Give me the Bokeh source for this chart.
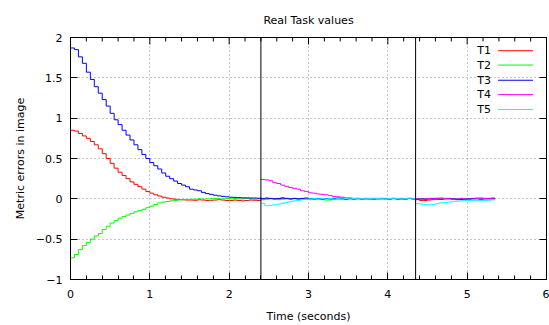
from bokeh.plotting import figure
from bokeh.models import LinearAxis, FixedTicker, Span
from bokeh.core.properties import value
from bokeh.embed import file_html
from bokeh.resources import INLINE

# ---------------- data ----------------
time_all = [0.00, 0.05, 0.10, 0.15, 0.20, 0.25, 0.30, 0.35, 0.40, 0.45,
            0.50, 0.55, 0.60, 0.65, 0.70, 0.75, 0.80, 0.85, 0.90, 0.95,
            1.00, 1.05, 1.10, 1.15, 1.20, 1.25, 1.30, 1.35, 1.40, 1.45,
            1.50, 1.55, 1.60, 1.65, 1.70, 1.75, 1.80, 1.85, 1.90, 1.95,
            2.00, 2.05, 2.10, 2.15, 2.20, 2.25, 2.30, 2.35,
            2.40, 2.45, 2.50, 2.55, 2.60, 2.65, 2.70, 2.75, 2.80, 2.85, 2.90, 2.95,
            3.00, 3.05, 3.10, 3.15, 3.20, 3.25, 3.30, 3.35, 3.40, 3.45,
            3.50, 3.55, 3.60, 3.65, 3.70, 3.75, 3.80, 3.85, 3.90, 3.95,
            4.00, 4.05, 4.10, 4.15, 4.20, 4.25, 4.30,
            4.35, 4.40, 4.45, 4.50, 4.55, 4.60, 4.65, 4.70, 4.75, 4.80, 4.85,
            4.90, 4.95, 5.00, 5.05, 5.10, 5.15, 5.20, 5.25, 5.30, 5.35]

t1 = [0.85, 0.84, 0.81, 0.78, 0.75, 0.71, 0.67, 0.62, 0.56, 0.50,
      0.44, 0.38, 0.33, 0.29, 0.25, 0.21, 0.18, 0.15, 0.12, 0.09,
      0.07, 0.05, 0.035, 0.02, 0.01, 0.0, -0.005, -0.01, -0.012, -0.015,
      -0.015, -0.018, -0.012, -0.015, -0.02, -0.018, -0.015, -0.01, -0.015, -0.02,
      -0.02, -0.015, -0.02, -0.025, -0.02, -0.015, -0.018, -0.02,
      -0.01, 0.0, 0.005, 0.0, -0.005, 0.01, 0.005, 0.0, 0.005, 0.0, 0.005, 0.0,
      0.0, 0.005, 0.0, -0.005, 0.0, 0.005, 0.0, 0.005, 0.0, -0.005,
      0.0, 0.005, 0.0, 0.0, 0.005, 0.0, -0.005, 0.0, 0.005, 0.0,
      0.0, 0.005, 0.0, -0.005, 0.0, 0.005, 0.0,
      -0.01, -0.02, -0.02, -0.015, -0.01, -0.005, 0.0, 0.005, 0.0, -0.005, 0.0,
      0.005, 0.0, -0.005, 0.0, 0.005, 0.01, 0.005, 0.0, 0.005, 0.01]

t2 = [-0.73, -0.69, -0.63, -0.58, -0.54, -0.50, -0.46, -0.43, -0.38, -0.34,
      -0.30, -0.27, -0.24, -0.22, -0.20, -0.18, -0.16, -0.145, -0.13, -0.11,
      -0.09, -0.07, -0.05, -0.04, -0.033, -0.025, -0.02, -0.012, -0.01, -0.008,
      -0.005, -0.005, 0.0, -0.005, 0.0, 0.0, 0.005, 0.0, 0.0, 0.005,
      0.0, 0.005, 0.0, 0.0, 0.005, 0.0, -0.005, 0.0,
      -0.01, -0.005, 0.0, -0.005, -0.01, -0.005, 0.0, -0.005, 0.0, -0.005, 0.0, -0.005,
      -0.01, -0.005, -0.005, -0.01, -0.015, -0.015, -0.01, -0.005, -0.01, -0.005,
      0.0, -0.005, 0.0, 0.005, 0.0, -0.005, 0.0, 0.0, 0.005, 0.0,
      0.005, 0.0, 0.0, -0.005, 0.0, 0.005, 0.0,
      0.005, 0.0, 0.005, 0.0, 0.005, 0.01, 0.005, 0.0, 0.005, 0.0, 0.005,
      0.0, 0.005, 0.0, 0.005, 0.01, 0.005, 0.0, 0.005, 0.0, 0.005]

t3 = [1.87, 1.85, 1.76, 1.68, 1.57, 1.48, 1.39, 1.31, 1.23, 1.15,
      1.06, 0.98, 0.92, 0.85, 0.79, 0.73, 0.67, 0.61, 0.55, 0.50,
      0.45, 0.41, 0.37, 0.32, 0.28, 0.25, 0.22, 0.19, 0.17, 0.15,
      0.12, 0.11, 0.10, 0.08, 0.065, 0.055, 0.045, 0.037, 0.03, 0.025,
      0.02, 0.018, 0.015, 0.012, 0.012, 0.01, 0.01, 0.008,
      0.005, 0.01, 0.005, 0.0, 0.005, 0.01, 0.005, 0.0, 0.005, 0.0, 0.005, 0.01,
      0.005, 0.0, 0.005, 0.0, 0.005, 0.0, 0.005, 0.01, 0.005, 0.0,
      0.005, 0.0, 0.005, 0.0, 0.0, 0.005, 0.0, 0.005, 0.0, 0.005,
      0.0, 0.005, 0.0, 0.005, 0.0, 0.005, 0.0,
      -0.005, 0.0, -0.005, 0.0, 0.005, 0.0, -0.005, 0.0, 0.005, 0.0, -0.01,
      -0.01, -0.005, 0.0, 0.005, 0.0, -0.005, 0.0, 0.005, 0.0, 0.005]

time_late = time_all[48:]

t4 = [0.24, 0.235, 0.225, 0.20, 0.19, 0.17, 0.155, 0.14, 0.13, 0.12, 0.10, 0.09,
      0.075, 0.07, 0.06, 0.055, 0.05, 0.04, 0.03, 0.025, 0.02, 0.012,
      0.01, 0.005, 0.005, 0.0, 0.005, 0.0, 0.005, 0.0, 0.005, 0.0,
      0.0, 0.005, 0.0, 0.005, 0.0, 0.005, 0.0,
      0.0, -0.005, 0.0, 0.005, 0.0, 0.005, 0.01, 0.005, 0.0, -0.005, 0.0,
      0.005, 0.0, -0.005, 0.0, 0.005, 0.0, 0.005, 0.0, 0.01, 0.01]

t5 = [-0.055, -0.085, -0.08, -0.075, -0.065, -0.055, -0.045, -0.035, -0.025, -0.02, -0.01, -0.005,
      0.0, 0.005, 0.0, 0.005, 0.0, 0.005, 0.01, 0.005, 0.0, 0.005,
      0.0, 0.005, 0.0, 0.005, 0.0, 0.005, 0.0, 0.005, 0.0, 0.0,
      0.005, 0.0, 0.005, 0.0, 0.005, 0.0, 0.0,
      -0.06, -0.065, -0.07, -0.075, -0.07, -0.06, -0.05, -0.045, -0.04, -0.035, -0.03,
      -0.025, -0.02, -0.02, -0.02, -0.018, -0.02, -0.02, -0.018, -0.012, -0.01]

series_names = ["T1", "T2", "T3", "T4", "T5"]
series_colors = ["#ff0000", "#00ff00", "#0000ff", "#ff00ff", "#00ffff"]
phase_bounds = [2.4, 4.35]

x_ticks = [0, 1, 2, 3, 4, 5, 6]
x_minor_ticks = [0.2, 0.4, 0.6, 0.8, 1.2, 1.4, 1.6, 1.8, 2.2, 2.4, 2.6, 2.8,
                 3.2, 3.4, 3.6, 3.8, 4.2, 4.4, 4.6, 4.8, 5.2, 5.4, 5.6, 5.8]
y_ticks = [-1, -0.5, 0, 0.5, 1, 1.5, 2]

title_text = "Real Task values"
FONT = "DejaVu Sans"

# ---------------- figure ----------------
p = figure(width=549, height=325, x_range=(0, 6), y_range=(-1, 2),
           output_backend="svg", toolbar_location=None,
           min_border_left=70, min_border_right=3,
           min_border_top=37, min_border_bottom=45,
           title=title_text)
p.background_fill_color = "white"
p.border_fill_color = "white"
p.outline_line_color = "black"
p.outline_line_width = 1

p.title.align = "center"
p.title.text_font = FONT
p.title.text_font_size = "11px"
p.title.text_font_style = "normal"
p.title.text_color = "black"
p.title.standoff = 22

def style_axis(ax, ticks, minor, labels=True):
    ax.ticker = FixedTicker(ticks=ticks, minor_ticks=minor)
    ax.axis_line_color = "black"
    ax.major_tick_line_color = "black"
    ax.minor_tick_line_color = "black" if minor else None
    ax.major_tick_in = 7
    ax.major_tick_out = 0
    ax.minor_tick_in = 4
    ax.minor_tick_out = 0
    ax.major_label_text_font = FONT
    ax.major_label_text_font_size = "11px"
    ax.major_label_text_color = "black" if labels else None
    ax.axis_label_text_font = FONT
    ax.axis_label_text_font_size = "11px"
    ax.axis_label_text_font_style = "normal"
    ax.axis_label_text_color = "black"

xa = p.xaxis[0]
ya = p.yaxis[0]
style_axis(xa, x_ticks, x_minor_ticks)
style_axis(ya, y_ticks, [])
xa.axis_label = "Time (seconds)"
ya.axis_label = "Metric errors in image"
xa.major_label_standoff = 10
xa.axis_label_standoff = 9
ya.major_label_standoff = 8
ya.axis_label_standoff = 6

right_ax = LinearAxis()
style_axis(right_ax, y_ticks, [], labels=False)
p.add_layout(right_ax, "right")

# mirrored inward ticks on the top edge (gnuplot "mirror" style)
y_top = 2.0
major_len = 7 * 3.0 / 243   # 7 px in data units
minor_len = 4 * 3.0 / 243   # 4 px in data units
p.segment(x0=x_ticks, y0=[y_top] * len(x_ticks), x1=x_ticks,
          y1=[y_top - major_len] * len(x_ticks), line_color="black", line_width=1)
p.segment(x0=x_minor_ticks, y0=[y_top] * len(x_minor_ticks), x1=x_minor_ticks,
          y1=[y_top - minor_len] * len(x_minor_ticks), line_color="black", line_width=1)

for g in (p.xgrid[0], p.ygrid[0]):
    g.grid_line_color = "#8c8c8c"
    g.grid_line_dash = "1 3"
    g.grid_line_width = 1
p.xgrid[0].ticker = FixedTicker(ticks=x_ticks)
p.ygrid[0].ticker = FixedTicker(ticks=y_ticks)

for loc in phase_bounds:
    p.add_layout(Span(location=loc, dimension="height",
                      line_color="black", line_width=1))

series_x = [time_all, time_all, time_all, time_late, time_late]
series_y = [t1, t2, t3, t4, t5]
for xs, ys, c in zip(series_x, series_y, series_colors):
    p.step(x=xs, y=ys, mode="after", line_color=c, line_width=1)

# legend (gnuplot style: label left, sample right)
leg_y = [1.836, 1.658, 1.47, 1.292, 1.107]
leg_text_x = 5.30
leg_line_x0 = 5.39
leg_line_x1 = 5.83
p.text(x=[leg_text_x] * 5, y=leg_y, text=series_names,
       text_align="right", text_baseline="middle",
       text_font=value(FONT), text_font_size="11px", text_color="black")
for yy, c in zip(leg_y, series_colors):
    p.segment(x0=[leg_line_x0], y0=[yy], x1=[leg_line_x1], y1=[yy],
              line_color=c, line_width=1)

open("out.html", "w").write(file_html(p, INLINE))
